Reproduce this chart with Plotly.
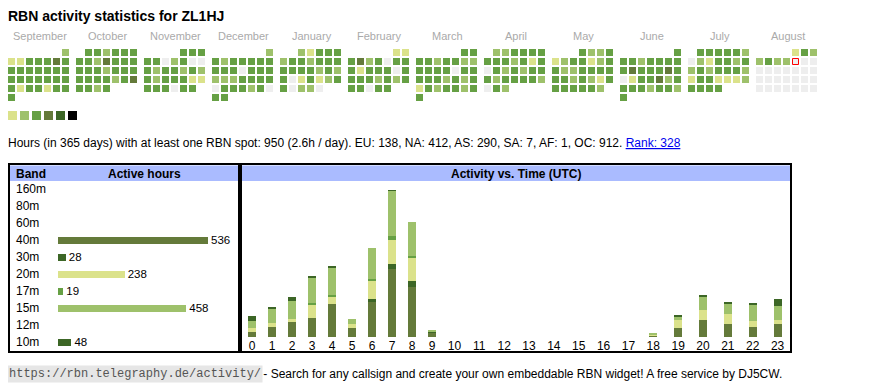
import datetime as dt
import plotly.graph_objects as go

# the page body has an 8px margin: the figure is placed at (8, 8)
OFF = 8
W, H = 870 - OFF, 390 - OFF
FONT = "Liberation Sans, Arial, Helvetica, sans-serif"
MONO = "Liberation Mono, Courier New, monospace"

TITLE = "RBN activity statistics for ZL1HJ"
STATS_TEXT = "Hours (in 365 days) with at least one RBN spot: 950 (2.6h / day). EU: 138, NA: 412, AS: 290, SA: 7, AF: 1, OC: 912. "
RANK_TEXT = "Rank: 328"
FOOTER_URL = "https://rbn.telegraphy.de/activity/"
FOOTER_TEXT = " - Search for any callsign and create your own embeddable RBN widget! A free service by DJ5CW."

MONTH_NAMES = ["September", "October", "November", "December", "January", "February",
               "March", "April", "May", "June", "July", "August"]
MONTH_START = ["2024-09", "2024-10", "2024-11", "2024-12", "2025-01", "2025-02",
               "2025-03", "2025-04", "2025-05", "2025-06", "2025-07", "2025-08"]

# activity level per day (0 = none, 1..5 increasing)
LV_SEP = [2, 1, 1, 3, 3, 3, 4, 3, 3, 3, 3, 3, 3, 3, 3, 3, 3, 3, 3, 3, 3, 3, 3, 1, 3, 3, 1, 3, 3, 3]
LV_OCT = [3, 3, 2, 3, 3, 3, 3, 3, 2, 4, 3, 3, 3, 3, 3, 3, 2, 3, 3, 3, 3, 3, 3, 3, 2, 3, 4, 3, 3, 2, 3]
LV_NOV = [3, 3, 3, 3, 3, 0, 2, 3, 0, 0, 3, 2, 3, 3, 2, 3, 2, 3, 2, 3, 3, 3, 1, 1, 3, 3, 3, 0, 3, 3]
LV_DEC = [2, 3, 2, 3, 3, 3, 3, 3, 3, 3, 3, 0, 3, 3, 3, 2, 2, 2, 3, 3, 3, 3, 0, 3, 3, 3, 2, 3, 0, 3, 3]
LV_JAN = [2, 1, 3, 3, 3, 2, 3, 3, 2, 3, 3, 3, 3, 3, 3, 3, 2, 3, 2, 3, 0, 1, 3, 1, 2, 3, 3, 0, 2, 2, 0]
LV_FEB = [1, 1, 3, 4, 2, 3, 0, 3, 3, 3, 1, 3, 3, 3, 0, 3, 3, 3, 3, 2, 3, 2, 3, 3, 3, 0, 3, 3]
LV_MAR = [3, 3, 3, 3, 2, 3, 3, 2, 2, 3, 3, 3, 3, 0, 3, 3, 3, 3, 3, 2, 3, 2, 3, 1, 3, 2, 3, 3, 2, 3, 3]
LV_APR = [2, 2, 3, 3, 3, 3, 3, 3, 3, 2, 3, 1, 3, 0, 3, 2, 3, 2, 3, 3, 3, 2, 3, 3, 3, 3, 2, 0, 3, 2]
LV_MAY = [3, 2, 2, 3, 1, 2, 3, 3, 1, 2, 3, 3, 2, 2, 3, 3, 3, 3, 3, 3, 2, 3, 2, 1, 3, 3, 3, 3, 3, 3, 2]
LV_JUN = [3, 3, 3, 2, 3, 3, 3, 3, 3, 4, 3, 3, 3, 4, 3, 0, 1, 3, 3, 4, 2, 3, 3, 3, 3, 2, 3, 3, 2, 3]
LV_JUL = [3, 3, 3, 3, 3, 2, 0, 2, 1, 3, 3, 2, 3, 2, 3, 2, 3, 3, 3, 2, 1, 3, 3, 1, 1, 1, 2, 3, 3, 3, 3]
LV_AUG = [1, 3, 2, 2, 3, 2, 2, 0, 0, 0, 0, 0, 0, 0, 0, 0, 0, 0, 0, 0, 0, 0, 0, 0, 0, 0, 0, 0, 0, 0, 0]
CAL_LEVELS = [LV_SEP, LV_OCT, LV_NOV, LV_DEC, LV_JAN, LV_FEB, LV_MAR, LV_APR, LV_MAY, LV_JUN, LV_JUL, LV_AUG]
TODAY = "2025-08-08"
LEVEL_COLORS = ["#eeeeee", "#dbe28b", "#9ec16b", "#66a044", "#647a3a", "#3c6626", "#000000"]

BANDS = ["160m", "80m", "60m", "40m", "30m", "20m", "17m", "15m", "12m", "10m"]
BAND_HOURS = [0, 0, 0, 536, 28, 238, 19, 458, 0, 48]
BAND_COLORS = {"160m": "#000000", "80m": "#000000", "60m": "#000000", "40m": "#647a3a",
               "30m": "#3c6626", "20m": "#dbe28b", "17m": "#66a044", "15m": "#9ec16b",
               "12m": "#000000", "10m": "#3c6626"}

HOURS = [str(h) for h in range(24)]
H40 = [9, 17, 25, 33, 57, 15, 60, 116, 86, 7, 0, 0, 0, 0, 0, 0, 0, 0, 2, 15, 30, 23, 18, 23]
H30 = [0, 0, 0, 0, 0, 0, 6, 10, 10, 2, 0, 0, 0, 0, 0, 0, 0, 0, 0, 0, 0, 0, 0, 0]
H20 = [6, 7, 6, 22, 12, 7, 30, 41, 41, 0, 0, 0, 0, 0, 0, 0, 0, 0, 3, 14, 16, 16, 10, 7]
H17 = [0, 0, 0, 3, 3, 0, 4, 6, 3, 0, 0, 0, 0, 0, 0, 0, 0, 0, 0, 0, 0, 0, 0, 0]
H15 = [13, 25, 31, 43, 48, 9, 53, 78, 57, 2, 0, 0, 0, 0, 0, 0, 0, 0, 1, 7, 23, 18, 27, 23]
H10 = [8, 3, 6, 4, 2, 0, 0, 1, 0, 0, 0, 0, 0, 0, 0, 0, 0, 0, 0, 2, 4, 2, 4, 12]
HOUR_SERIES = [("40m", H40), ("30m", H30), ("20m", H20), ("17m", H17), ("15m", H15), ("10m", H10)]


def px(x):
    """page x (px) -> paper fraction"""
    return (x - OFF) / W


def py(y):
    """page y (px) -> paper fraction"""
    return 1 - (y - OFF) / H


fig = go.Figure()

# ---------- calendar ----------
cx, cy, cc = [], [], []
tx = ty = None
for m, (start, levels) in enumerate(zip(MONTH_START, CAL_LEVELS)):
    yr, mo = map(int, start.split("-"))
    w0 = dt.date(yr, mo, 1).weekday()
    left = 8 + m * 68
    for d, lv in enumerate(levels):
        r, c = divmod(w0 + d, 7)
        x = left + c * 9 + 3.5
        y = 49 + r * 9 + 3.5
        cx.append(x)
        cy.append(y)
        cc.append(LEVEL_COLORS[lv])
        if dt.date(yr, mo, d + 1).isoformat() == TODAY:
            tx, ty = x, y

fig.add_trace(go.Scatter(x=cx, y=cy, mode="markers", xaxis="x", yaxis="y",
                         marker=dict(symbol="square", size=7, color=cc, line=dict(width=0)),
                         hoverinfo="skip", showlegend=False))
fig.add_trace(go.Scatter(x=[tx], y=[ty], mode="markers", xaxis="x", yaxis="y",
                         marker=dict(symbol="square", size=6, color="#eeeeee",
                                     line=dict(width=1, color="#ff0000")),
                         hoverinfo="skip", showlegend=False))
# legend squares
fig.add_trace(go.Scatter(x=[12.5 + 12 * k for k in range(6)], y=[115.5] * 6, mode="markers",
                         xaxis="x", yaxis="y",
                         marker=dict(symbol="square", size=9, color=LEVEL_COLORS[1:], line=dict(width=0)),
                         hoverinfo="skip", showlegend=False))

# ---------- band table ----------
fig.add_trace(go.Bar(orientation="h", x=BAND_HOURS, y=BANDS, xaxis="x2", yaxis="y2",
                     width=7 / 17,
                     marker=dict(color=[BAND_COLORS[b] for b in BANDS], line=dict(width=0)),
                     text=[str(v) if v else "" for v in BAND_HOURS], textposition="outside",
                     textfont=dict(size=11.5, color="#000000", family=FONT),
                     cliponaxis=False, constraintext="none",
                     hoverinfo="skip", showlegend=False))

# ---------- hourly chart ----------
col_w = [20 if len(h) == 1 else (548 - 200) / 14 for h in HOURS]
centers = []
acc = 0
for w in col_w:
    centers.append(acc + w / 2)
    acc += w
for band, vals in HOUR_SERIES:
    fig.add_trace(go.Bar(x=centers, y=vals, width=8, xaxis="x3", yaxis="y3",
                         marker=dict(color=BAND_COLORS[band], line=dict(width=0)),
                         hoverinfo="skip", showlegend=False))

shapes = [
    dict(type="rect", xref="paper", yref="paper", x0=px(10), x1=px(238), y0=py(181), y1=py(165.5),
         fillcolor="#aabbff", line=dict(width=0), layer="below"),
    dict(type="rect", xref="paper", yref="paper", x0=px(242), x1=px(790), y0=py(181), y1=py(165.5),
         fillcolor="#aabbff", line=dict(width=0), layer="below"),
    dict(type="rect", xref="paper", yref="paper", x0=px(9), x1=px(239), y0=py(352), y1=py(164),
         line=dict(width=2, color="#000000")),
    dict(type="rect", xref="paper", yref="paper", x0=px(241), x1=px(791), y0=py(352), y1=py(164),
         line=dict(width=2, color="#000000")),
]

ann = []
ann.append(dict(text="<b>" + TITLE + "</b>", x=px(6), y=py(16), xanchor="left", yanchor="middle",
                font=dict(size=14, color="#000000")))
for m, name in enumerate(MONTH_NAMES):
    ann.append(dict(text=name, x=px(8 + m * 68 + 31.5), y=py(35.5), xanchor="center", yanchor="middle",
                    font=dict(size=11, color="#aaaaaa")))
ann.append(dict(text=STATS_TEXT + "<span style='color:#0000ee'><u>" + RANK_TEXT + "</u></span>",
                x=px(6), y=py(142.5), xanchor="left", yanchor="middle", font=dict(size=12, color="#000000")))
ann.append(dict(text="<b>Band</b>", x=px(14), y=py(173.5), xanchor="left", yanchor="middle",
                font=dict(size=12)))
ann.append(dict(text="<b>Active hours</b>", x=px(144.5), y=py(173.5), xanchor="center", yanchor="middle",
                font=dict(size=12)))
ann.append(dict(text="<b>Activity vs. Time (UTC)</b>", x=px(516), y=py(173.5), xanchor="center",
                yanchor="middle", font=dict(size=12)))
for b in BANDS:
    ann.append(dict(text=b, x=px(14), xref="paper", y=b, yref="y2", xanchor="left", yanchor="middle",
                    font=dict(size=12)))
ann.append(dict(text=FOOTER_URL, x=px(7), y=py(374), xanchor="left", yanchor="middle",
                font=dict(size=12, family=MONO, color="#555555"), bgcolor="#e6e6e6", borderpad=1))
ann.append(dict(text=FOOTER_TEXT, x=px(258), y=py(374), xanchor="left", yanchor="middle",
                font=dict(size=12, color="#000000")))
for a in ann:
    a.setdefault("xref", "paper")
    a.setdefault("yref", "paper")
    a["showarrow"] = False

fig.update_layout(
    width=W, height=H,
    margin=dict(l=0, r=0, t=0, b=0),
    paper_bgcolor="#ffffff", plot_bgcolor="rgba(0,0,0,0)",
    font=dict(family=FONT, color="#000000", size=12),
    barmode="stack",
    showlegend=False,
    hovermode=False,
    xaxis=dict(domain=[0, 1], range=[OFF, OFF + W], visible=False, fixedrange=True),
    yaxis=dict(domain=[0, 1], range=[OFF + H, OFF], visible=False, fixedrange=True),
    xaxis2=dict(domain=[px(58), px(238)], range=[0, 180 / 0.28], visible=False, anchor="y2"),
    yaxis2=dict(domain=[py(350.5), py(180.8)], range=[9.5, -0.5], type="category",
                categoryorder="array", categoryarray=BANDS, visible=False, anchor="x2"),
    xaxis3=dict(domain=[px(242), px(790)], range=[0, 548], anchor="y3",
                tickvals=centers, ticktext=HOURS, ticks="", showgrid=False, zeroline=False,
                showline=False, tickfont=dict(size=12, color="#000000")),
    yaxis3=dict(domain=[py(337), py(181)], range=[0, 156 / 0.582], visible=False, anchor="x3"),
    shapes=shapes,
    annotations=ann,
)

fig.write_html("out.html")
